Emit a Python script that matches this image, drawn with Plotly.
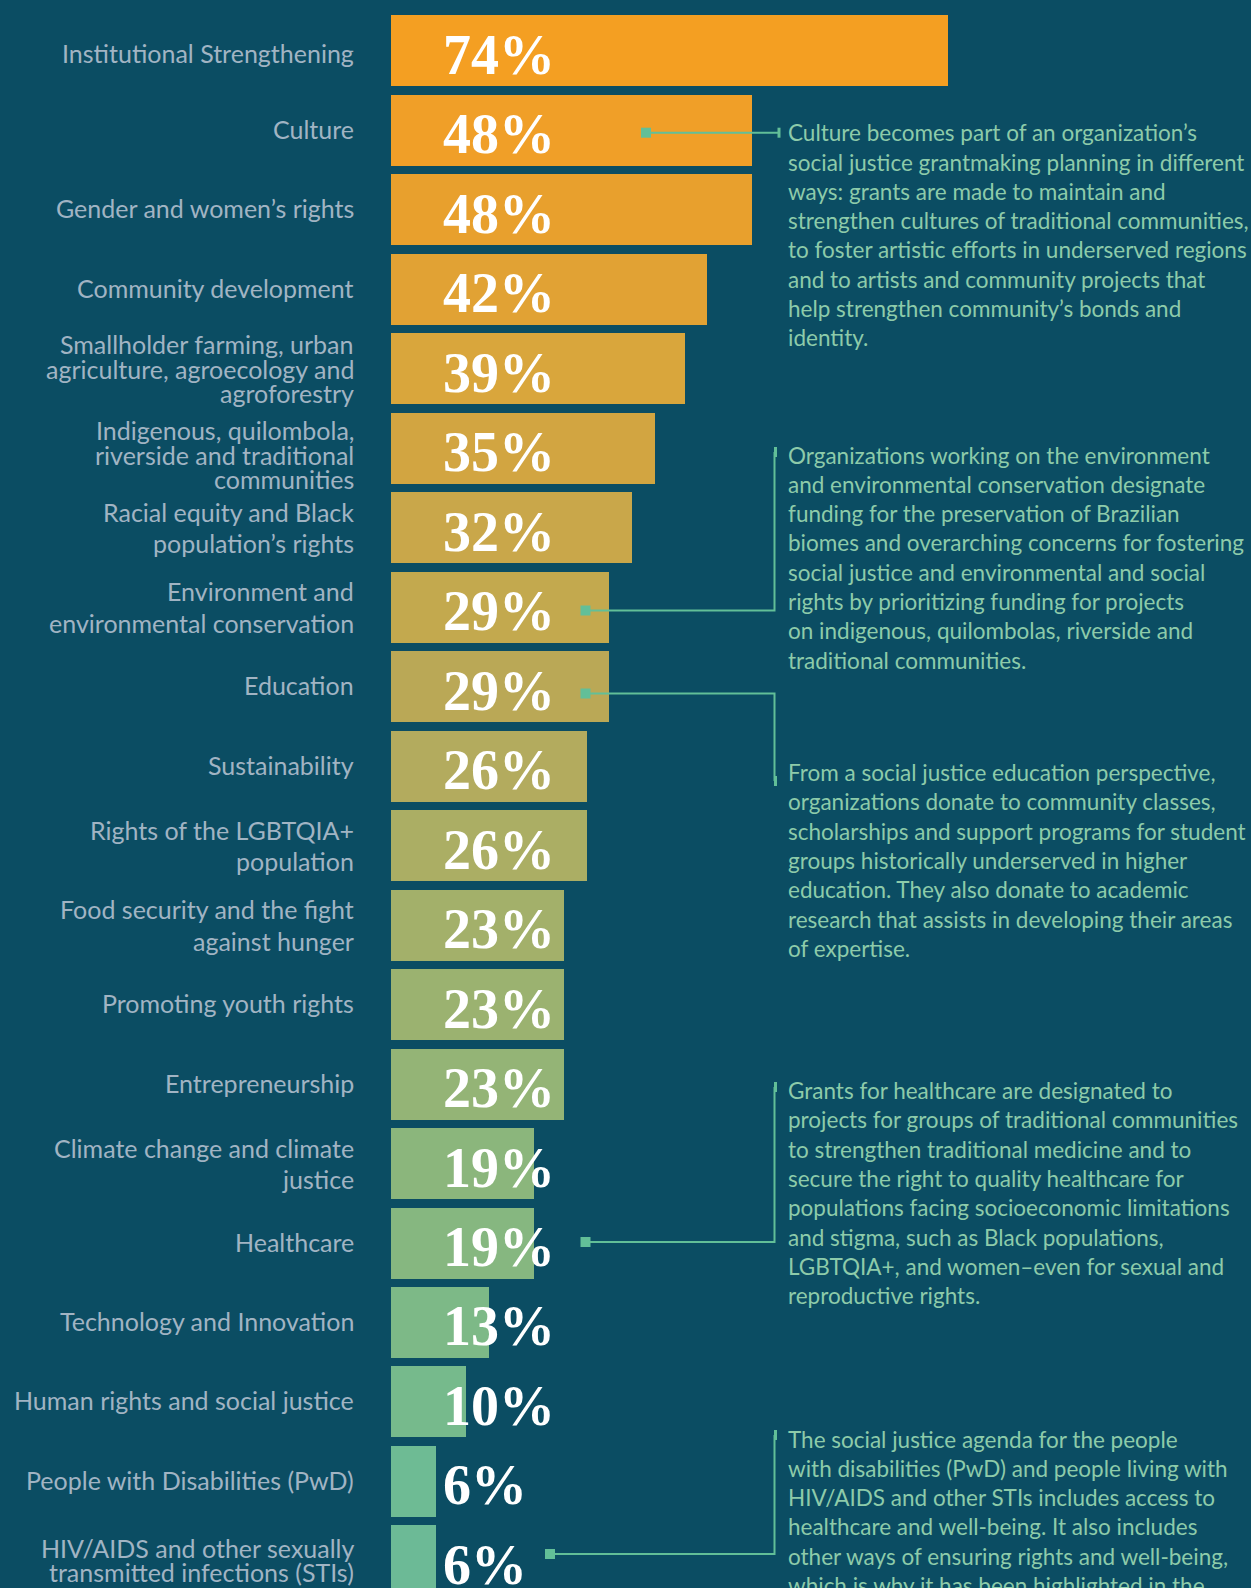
import plotly.graph_objects as go

# ---------------- data ----------------
categories = [
    "Institutional Strengthening",
    "Culture",
    "Gender and women’s rights",
    "Community development",
    "Smallholder farming, urban<br>agriculture, agroecology and<br>agroforestry",
    "Indigenous, quilombola,<br>riverside and traditional<br>communities",
    "Racial equity and Black<br>population’s rights",
    "Environment and<br>environmental conservation",
    "Education",
    "Sustainability",
    "Rights of the LGBTQIA+<br>population",
    "Food security and the fight<br>against hunger",
    "Promoting youth rights",
    "Entrepreneurship",
    "Climate change and climate<br>justice",
    "Healthcare",
    "Technology and Innovation",
    "Human rights and social justice",
    "People with Disabilities (PwD)",
    "HIV/AIDS and other sexually<br>transmitted infections (STIs)",
]
values = [74, 48, 48, 42, 39, 35, 32, 29, 29, 26, 26, 23, 23, 23, 19, 19, 13, 10, 6, 6]
bar_colors = [
    "#F49F22", "#F09F28", "#E8A02D", "#E1A234", "#D9A63C",
    "#D2A541", "#C9A74A", "#C3A94E", "#BAA856", "#B3AB5E",
    "#ABAE64", "#A3B06A", "#9BB270", "#94B476", "#8BB67C",
    "#86B780", "#7DB987", "#76BA8C", "#6EBB94", "#6CBA96",
]

callout_culture = [
    "Culture becomes part of an organization’s",
    "social justice grantmaking planning in different",
    "ways: grants are made to maintain and",
    "strengthen cultures of traditional communities,",
    "to foster artistic efforts in underserved regions",
    "and to artists and community projects that",
    "help strengthen community’s bonds and",
    "identity.",
]
callout_environment = [
    "Organizations working on the environment",
    "and environmental conservation designate",
    "funding for the preservation of Brazilian",
    "biomes and overarching concerns for fostering",
    "social justice and environmental and social",
    "rights by prioritizing funding for projects",
    "on indigenous, quilombolas, riverside and",
    "traditional communities.",
]
callout_education = [
    "From a social justice education perspective,",
    "organizations donate to community classes,",
    "scholarships and support programs for student",
    "groups historically underserved in higher",
    "education. They also donate to academic",
    "research that assists in developing their areas",
    "of expertise.",
]
callout_healthcare = [
    "Grants for healthcare are designated to",
    "projects for groups of traditional communities",
    "to strengthen traditional medicine and to",
    "secure the right to quality healthcare for",
    "populations facing socioeconomic limitations",
    "and stigma, such as Black populations,",
    "LGBTQIA+, and women–even for sexual and",
    "reproductive rights.",
]
callout_hiv = [
    "The social justice agenda for the people",
    "with disabilities (PwD) and people living with",
    "HIV/AIDS and other STIs includes access to",
    "healthcare and well-being. It also includes",
    "other ways of ensuring rights and well-being,",
    "which is why it has been highlighted in the",
]

# ---------------- layout geometry / style (pixels) ----------------
W, H = 1251, 1588
X0_PX = 391.0        # where 0% sits
PX_PER_PCT = 7.53
ROW0_PX = 50.65      # centre of first bar
ROW_PX = 79.49       # bar pitch
BAR_PX = 71.0

BG = "#0B4D63"
LABEL_COLOR = "#A1B4C3"
NOTE_COLOR = "#8DCBAA"
LINE_COLOR = "#62BF98"
SANS = "Lato"
SERIF = "Liberation Serif"

LABEL_RIGHT_PX = 356
LABEL_SIZE = 25
TIGHT_GAP = 24.3
LOOSE_GAP = 31.4
TIGHT_LABELS = {4, 5, 19}            # labels set with tight leading
LABEL_NUDGE = {0: -4, 5: -6.5, 19: 1}  # px, positive = up


def xd(px):
    return (px - X0_PX) / PX_PER_PCT


def yd(px):
    return (px - ROW0_PX) / ROW_PX


idx = list(range(len(categories)))

fig = go.Figure()
fig.add_trace(go.Bar(
    x=values, y=idx, orientation="h",
    width=BAR_PX / ROW_PX,
    marker=dict(color=bar_colors, line=dict(width=0)),
    hoverinfo="skip",
))

annotations = []
# category labels (right aligned, each line separately)
for i, cat in enumerate(categories):
    lines = cat.split("<br>")
    n = len(lines)
    spacing = TIGHT_GAP if i in TIGHT_LABELS else LOOSE_GAP
    for k, line in enumerate(lines):
        off = ((n - 1) / 2 - k) * spacing + LABEL_NUDGE.get(i, 0)
        if n == 1:
            off += 1.5
        annotations.append(dict(
            x=xd(LABEL_RIGHT_PX), y=i, xref="x", yref="y", text=line, showarrow=False,
            xanchor="right", yanchor="middle", yshift=off,
            font=dict(family=SANS, size=LABEL_SIZE, color=LABEL_COLOR),
        ))
    # percentage text
    annotations.append(dict(
        x=xd(441), y=i, xref="x", yref="y", text=f"<b>{values[i]}%</b>",
        showarrow=False, xanchor="left", yanchor="middle", yshift=-4,
        font=dict(family=SERIF, size=56, color="white"),
    ))

# callouts: (lines, first-line y px, marker x px, marker y px, elbow x px, end y px)
callouts = [
    (callout_culture, 132.7, 646, 132.7, 778, 132.7),
    (callout_environment, 455, 585.5, 610.5, 774.5, 452),
    (callout_education, 772.5, 585.5, 693.5, 774.5, 781),
    (callout_healthcare, 1090.5, 585.5, 1242, 774.5, 1087),
    (callout_hiv, 1439, 550, 1554, 774.5, 1435),
]
NOTE_PITCH = 29.3
shapes = []
mx, my = [], []
for lines, y0, mxp, myp, ex, ey in callouts:
    for k, line in enumerate(lines):
        annotations.append(dict(
            x=xd(785.5), y=yd(y0 + k * NOTE_PITCH), xref="x", yref="y",
            text=line, showarrow=False, xanchor="left", yanchor="middle",
            font=dict(family=SANS, size=22.5, color=NOTE_COLOR),
        ))
    # connector path
    shapes.append(dict(
        type="path", xref="x", yref="y",
        path=f"M {xd(mxp)} {yd(myp)} L {xd(ex)} {yd(myp)} L {xd(ex)} {yd(ey)}",
        line=dict(color=LINE_COLOR, width=2),
    ))
    # little end tick
    shapes.append(dict(
        type="line", xref="x", yref="y",
        x0=xd(ex + 1), x1=xd(ex + 1), y0=yd(ey - 5), y1=yd(ey + 5),
        line=dict(color=LINE_COLOR, width=3),
    ))
    mx.append(xd(mxp))
    my.append(yd(myp))

fig.add_trace(go.Scatter(
    x=mx, y=my, mode="markers",
    marker=dict(symbol="square", size=10, color=LINE_COLOR, line=dict(width=0)),
    hoverinfo="skip", cliponaxis=False,
))

fig.update_layout(
    width=W, height=H,
    margin=dict(l=0, r=0, t=0, b=0),
    paper_bgcolor=BG, plot_bgcolor=BG,
    showlegend=False,
    bargap=0,
    xaxis=dict(range=[xd(0), xd(W)], visible=False, fixedrange=True),
    yaxis=dict(range=[yd(H), yd(0)], visible=False, fixedrange=True),
    annotations=annotations,
    shapes=shapes,
)

fig.write_html(
    "out.html",
    config={"displayModeBar": False},
    post_script="document.body.style.margin='0';document.body.style.overflow='hidden';",
)
